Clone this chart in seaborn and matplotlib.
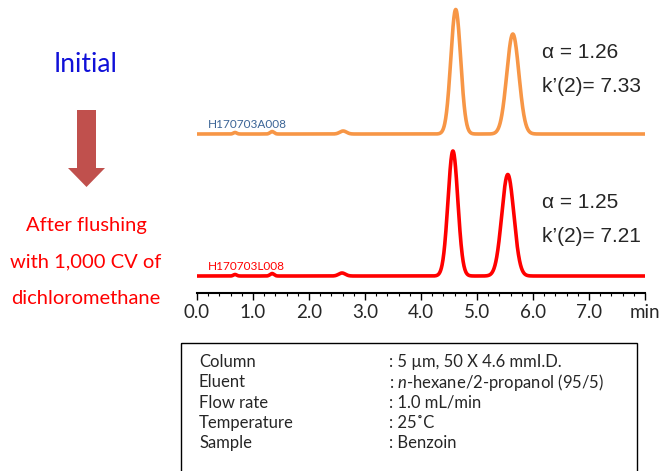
import numpy as np
import pandas as pd
import matplotlib
matplotlib.use("Agg")
import matplotlib.pyplot as plt
import matplotlib.patches as mpatches
import seaborn as sns

# Peak tables (retention time in min, height, sigma in min)
initial_rt = [0.68, 1.34, 2.61, 4.62, 5.64]
initial_height = [1.5, 2.5, 3.0, 124.5, 100.0]
initial_sigma = [0.03, 0.035, 0.06, 0.088, 0.108]

flushed_rt = [0.68, 1.34, 2.59, 4.57, 5.55]
flushed_height = [1.5, 2.5, 3.0, 125.0, 101.5]
flushed_sigma = [0.03, 0.035, 0.06, 0.088, 0.108]

trace_offset = 142  # vertical offset of the initial trace above the flushed one

x_ticks = [0, 1, 2, 3, 4, 5, 6, 7, 8]
x_ticklabels = ["0.0", "1.0", "2.0", "3.0", "4.0", "5.0", "6.0", "7.0", "min"]

initial_stats = ["α = 1.26", "k’(2)= 7.33"]
flushed_stats = ["α = 1.25", "k’(2)= 7.21"]

cond_names = ["Column", "Eluent", "Flow rate", "Temperature", "Sample"]
cond_values = [": 5 µm, 50 X 4.6 mmI.D.",
               r": $\mathit{n}$-hexane/2-propanol (95/5)",
               ": 1.0 mL/min",
               ": 25˚C",
               ": Benzoin"]


def trace(t, rts, heights, sigmas):
    y = np.zeros_like(t)
    for rt, h, s in zip(rts, heights, sigmas):
        y += h * np.exp(-0.5 * ((t - rt) / s) ** 2)
    return y


sns.set_theme(style="white")
plt.rcParams["font.family"] = ["Lato", "DejaVu Sans"]
plt.rcParams["mathtext.fontset"] = "custom"
plt.rcParams["mathtext.rm"] = "Lato"
plt.rcParams["mathtext.it"] = "Lato:italic"

t = np.linspace(0, 8, 2001)
df = pd.concat([
    pd.DataFrame({"time": t, "signal": trace(t, initial_rt, initial_height, initial_sigma) + trace_offset,
                  "run": "initial"}),
    pd.DataFrame({"time": t, "signal": trace(t, flushed_rt, flushed_height, flushed_sigma),
                  "run": "flushed"}),
])

W, H = 664, 471
fig = plt.figure(figsize=(W / 100, H / 100), dpi=100)

# overlay in pixel coordinates for the decorations
deco = fig.add_axes([0, 0, 1, 1], zorder=0)
deco.set_xlim(0, W)
deco.set_ylim(H, 0)
deco.axis("off")

ax = fig.add_axes([197 / W, 1 - 293 / H, 448 / W, 293 / H], zorder=1)
ax.patch.set_alpha(0)
sns.lineplot(data=df, x="time", y="signal", hue="run", units="run", estimator=None,
             palette={"initial": "#F79646", "flushed": "#FF0000"}, linewidth=2.6,
             legend=False, ax=ax)
ax.set_xlim(0, 8)
ax.set_ylim(-17, 276)
ax.set_xlabel("")
ax.set_ylabel("")
ax.set_yticks([])
for side in ["left", "right", "top"]:
    ax.spines[side].set_visible(False)
ax.spines["bottom"].set_color("black")
ax.spines["bottom"].set_linewidth(1.5)
ax.set_xticks(x_ticks)
ax.set_xticklabels(x_ticklabels, fontsize=13.5)
ax.set_xticks(np.arange(0, 8.01, 0.2), minor=True)
ax.tick_params(axis="x", which="major", direction="out", length=5, width=1, color="black",
               bottom=True, pad=3)
ax.tick_params(axis="x", which="minor", direction="out", length=2.5, width=0.8, color="black",
               bottom=True)

# run labels
ax.text(0.2, trace_offset + 4, "H170703A008", fontsize=8.5, color="#3B6496", va="bottom")
ax.text(0.2, 4, "H170703L008", fontsize=8.5, color="#FF0000", va="bottom")

# selectivity / retention
arial = ["Liberation Sans", "DejaVu Sans"]
for i, s in enumerate(initial_stats):
    deco.text(542, 53 + i * 33, s, fontsize=15, family=arial, va="center", ha="left")
for i, s in enumerate(flushed_stats):
    deco.text(542, 203 + i * 33, s, fontsize=15, family=arial, va="center", ha="left")

# left side
deco.text(86, 65, "Initial", fontsize=19, color="#1010D8", ha="center", va="center")
deco.add_patch(mpatches.FancyArrow(86.5, 110, 0, 77, width=19, head_width=37, head_length=19,
                                   length_includes_head=True, color="#C0504D", lw=0))
for i, s in enumerate(["After flushing", "with 1,000 CV of", "dichloromethane"]):
    deco.text(86, 225 + i * 36.5, s, fontsize=14.5, color="#FF0000", ha="center", va="center")

# conditions box
deco.add_patch(mpatches.Rectangle((181, 343), 456, 160, fill=False, edgecolor="black", lw=1))
for i, (n, v) in enumerate(zip(cond_names, cond_values)):
    y = 362 + i * 20.3
    deco.text(199, y, n, fontsize=12, ha="left", va="center")
    deco.text(389, y, v, fontsize=12, ha="left", va="center")

fig.savefig("out.png", dpi=100)
